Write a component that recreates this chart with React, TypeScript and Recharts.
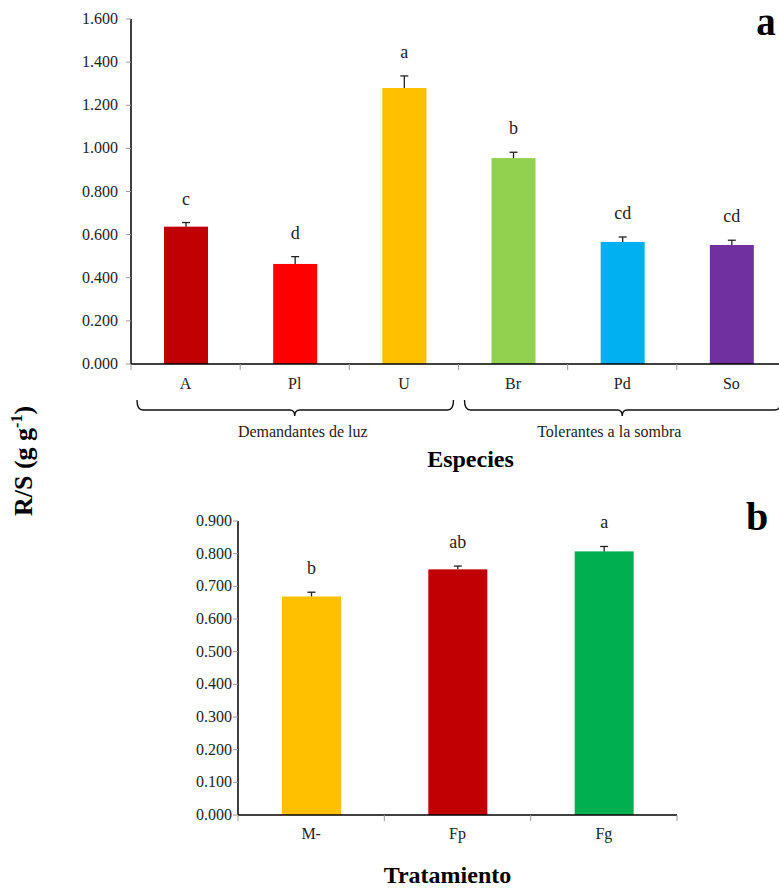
import { Bar, BarChart, Cell, Label, XAxis, YAxis } from "recharts";

const FONT = '"Liberation Serif", "Times New Roman", serif';

// panel a: species
const species = ["A", "Pl", "U", "Br", "Pd", "So"];
const speciesRatio = [0.637, 0.464, 1.28, 0.955, 0.566, 0.552];
const speciesError = [0.019, 0.034, 0.056, 0.027, 0.023, 0.022];
const speciesLetters = ["c", "d", "a", "b", "cd", "cd"];
const speciesGroups = ["Demandantes de luz", "Tolerantes a la sombra"];
const speciesTicks = [0, 0.2, 0.4, 0.6, 0.8, 1.0, 1.2, 1.4, 1.6];

// panel b: treatments
const treatments = ["M-", "Fp", "Fg"];
const treatmentRatio = [0.669, 0.752, 0.807];
const treatmentError = [0.013, 0.01, 0.015];
const treatmentLetters = ["b", "ab", "a"];
const treatmentTicks = [0, 0.1, 0.2, 0.3, 0.4, 0.5, 0.6, 0.7, 0.8, 0.9];

const speciesColors = ["#C00000", "#FF0000", "#FFC000", "#92D050", "#00B0F0", "#7030A0"];
const treatmentColors = ["#FFC000", "#C00000", "#00B050"];
// small horizontal nudges of the group captions, as in the original layout
const groupLabelShift = [8, -13];

const speciesData = species.map((name, i) => ({
  name,
  value: speciesRatio[i],
  err: speciesError[i],
  letter: speciesLetters[i],
}));

const treatmentData = treatments.map((name, i) => ({
  name,
  value: treatmentRatio[i],
  err: treatmentError[i],
  letter: treatmentLetters[i],
}));

// layout
const TOP_W = 800;
const TOP_H = 480;
const TOP_MARGIN = { top: 19, right: 14, left: 0, bottom: 0 };
const TOP_YW = 131;
const TOP_BAND = (TOP_W - TOP_MARGIN.right - TOP_MARGIN.left - TOP_YW) / species.length;

const BOT_W = 779;
const BOT_H = 388;
const BOT_MARGIN = { top: 21, right: 102, left: 0, bottom: 0 };
const BOT_YW = 238;
const BOT_BAND = (BOT_W - BOT_MARGIN.right - BOT_MARGIN.left - BOT_YW) / treatments.length;

const fmt = (v: number) => v.toFixed(3);

function ErrorBarShape(props: any) {
  const { x, y, width, height, fill, payload } = props;
  const pxPerUnit = height / payload.value;
  const capY = y - payload.err * pxPerUnit;
  const cx = x + width / 2;
  return (
    <g>
      <rect x={x} y={y} width={width} height={height} fill={fill} />
      <line x1={cx} x2={cx} y1={y} y2={capY} stroke="#222" strokeWidth={1.3} />
      <line x1={cx - 4} x2={cx + 4} y1={capY} y2={capY} stroke="#222" strokeWidth={1.3} />
      <text x={cx} y={capY - 18} textAnchor="middle" fontSize={18} fontFamily={FONT} fill="#222">
        {payload.letter}
      </text>
    </g>
  );
}

function SpeciesTick(props: any) {
  const { x, y, payload, index } = props;
  const last = index === species.length - 1;
  let brace = null;
  if (index % 3 === 1) {
    const g = Math.floor(index / 3);
    const x0 = x - 1.5 * TOP_BAND + 6;
    const x1 = x + 1.5 * TOP_BAND - 5;
    const ly = y + 46;
    const d = `M${x0},${y + 36} Q${x0},${ly} ${x0 + 6},${ly} L${x - 5},${ly} Q${x},${ly} ${x},${ly + 6} Q${x},${ly} ${x + 5},${ly} L${x1 - 6},${ly} Q${x1},${ly} ${x1},${y + 36}`;
    brace = (
      <g>
        <path d={d} fill="none" stroke="#111" strokeWidth={1.4} />
        <text
          x={x + groupLabelShift[g]}
          y={y + 73}
          textAnchor="middle"
          fontSize={16}
          fontFamily={FONT}
          fill="#222"
        >
          {speciesGroups[g]}
        </text>
      </g>
    );
  }
  return (
    <g>
      <line x1={x - TOP_BAND / 2} x2={x - TOP_BAND / 2} y1={y} y2={y + 6} stroke="#999" />
      {last && <line x1={x + TOP_BAND / 2} x2={x + TOP_BAND / 2} y1={y} y2={y + 6} stroke="#999" />}
      <text x={x} y={y + 25} textAnchor="middle" fontSize={16} fontFamily={FONT} fill="#222">
        {payload.value}
      </text>
      {brace}
    </g>
  );
}

function TreatmentTick(props: any) {
  const { x, y, payload, index } = props;
  const last = index === treatments.length - 1;
  return (
    <g>
      <line x1={x - BOT_BAND / 2} x2={x - BOT_BAND / 2} y1={y} y2={y + 6} stroke="#999" />
      {last && <line x1={x + BOT_BAND / 2} x2={x + BOT_BAND / 2} y1={y} y2={y + 6} stroke="#999" />}
      <text x={x} y={y + 24} textAnchor="middle" fontSize={16} fontFamily={FONT} fill="#222">
        {payload.value}
      </text>
    </g>
  );
}

function ValueTick(props: any) {
  const { x, y, payload } = props;
  return (
    <text x={x} y={y} dy={5} textAnchor="end" fontSize={16} fontFamily={FONT} fill="#222">
      {fmt(payload.value)}
    </text>
  );
}

export default function App() {
  return (
    <div
      style={{
        position: "absolute",
        left: 0,
        top: 0,
        width: 779,
        height: 888,
        overflow: "hidden",
        background: "#fff",
        fontFamily: FONT,
      }}
    >
      <div style={{ position: "absolute", left: 0, top: 0 }}>
        <BarChart width={TOP_W} height={TOP_H} data={speciesData} margin={TOP_MARGIN}>
          <XAxis
            dataKey="name"
            height={TOP_H - TOP_MARGIN.top - 345}
            interval={0}
            tickLine={false}
            tickSize={0}
            tickMargin={0}
            axisLine={{ stroke: "#000", strokeWidth: 1.5 }}
            tick={<SpeciesTick />}
          >
            <Label
              value="Especies"
              position="insideBottom"
              offset={13}
              dx={12}
              style={{ fontSize: 24, fontWeight: "bold", fontFamily: FONT, fill: "#000" }}
            />
          </XAxis>
          <YAxis
            type="number"
            width={TOP_YW}
            domain={[0, 1.6]}
            ticks={speciesTicks}
            tickSize={5}
            tickMargin={8}
            tickLine={{ stroke: "#999" }}
            axisLine={{ stroke: "#000", strokeWidth: 1.5 }}
            tick={<ValueTick />}
          />
          <Bar dataKey="value" barSize={44} shape={<ErrorBarShape />} isAnimationActive={false}>
            {speciesData.map((d, i) => (
              <Cell key={d.name} fill={speciesColors[i]} />
            ))}
          </Bar>
        </BarChart>
      </div>

      <div style={{ position: "absolute", left: 0, top: 500 }}>
        <BarChart width={BOT_W} height={BOT_H} data={treatmentData} margin={BOT_MARGIN}>
          <XAxis
            dataKey="name"
            height={BOT_H - BOT_MARGIN.top - 294}
            interval={0}
            tickLine={false}
            tickSize={0}
            tickMargin={0}
            axisLine={{ stroke: "#000", strokeWidth: 1.5 }}
            tick={<TreatmentTick />}
          >
            <Label
              value="Tratamiento"
              position="insideBottom"
              offset={5}
              dx={-10}
              style={{ fontSize: 24, fontWeight: "bold", fontFamily: FONT, fill: "#000" }}
            />
          </XAxis>
          <YAxis
            type="number"
            width={BOT_YW}
            domain={[0, 0.9]}
            ticks={treatmentTicks}
            tickSize={5}
            tickMargin={1}
            tickLine={{ stroke: "#999" }}
            axisLine={{ stroke: "#000", strokeWidth: 1.5 }}
            tick={<ValueTick />}
          />
          <Bar dataKey="value" barSize={59} shape={<ErrorBarShape />} isAnimationActive={false}>
            {treatmentData.map((d, i) => (
              <Cell key={d.name} fill={treatmentColors[i]} />
            ))}
          </Bar>
        </BarChart>
      </div>

      <svg
        width={779}
        height={888}
        style={{ position: "absolute", left: 0, top: 0, pointerEvents: "none" }}
      >
        <text
          transform="translate(32,461) rotate(-90)"
          textAnchor="middle"
          fontSize={26}
          fontWeight="bold"
          fontFamily={FONT}
          fill="#000"
        >
          R/S (g g
          <tspan dy={-10} fontSize={16}>
            -1
          </tspan>
          <tspan dy={10}>)</tspan>
        </text>
        <text x={766} y={35} textAnchor="middle" fontSize={39} fontWeight="bold" fontFamily={FONT} fill="#000">
          a
        </text>
        <text x={757} y={530} textAnchor="middle" fontSize={40} fontWeight="bold" fontFamily={FONT} fill="#000">
          b
        </text>
      </svg>
    </div>
  );
}
